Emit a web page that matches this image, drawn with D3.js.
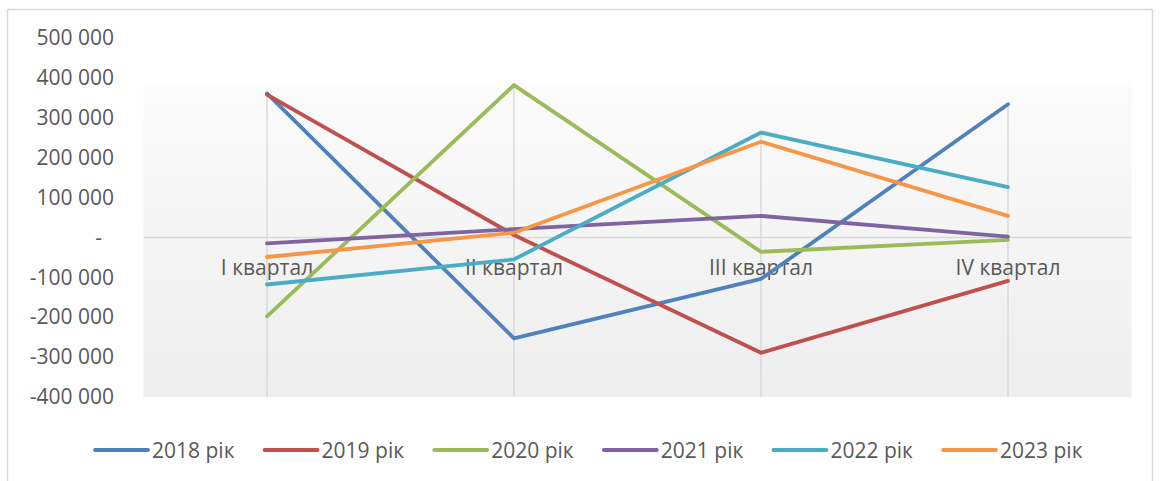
<!DOCTYPE html>
<html>
<head>
<meta charset="utf-8">
<script src="https://cdn.jsdelivr.net/npm/d3@7/dist/d3.min.js"></script>
<style>
  html, body { margin: 0; padding: 0; background: #fff; }
  svg { display: block; }
  text { font-family: "Open Sans", "DejaVu Sans", sans-serif; fill: #595959; }
</style>
</head>
<body>
<svg id="chart" width="1160" height="481"></svg>
<script>
const categories = ["I квартал", "II квартал", "III квартал", "IV квартал"];
const seriesNames = ["2018 рік", "2019 рік", "2020 рік", "2021 рік", "2022 рік", "2023 рік"];
const values2018 = [361000, -253000, -104000, 334000];
const values2019 = [358000, 6000, -289000, -109000];
const values2020 = [-198000, 382000, -36000, -6000];
const values2021 = [-15000, 21000, 54000, 2000];
const values2022 = [-118000, -55000, 263000, 126000];
const values2023 = [-49000, 12000, 240000, 54000];
const seriesColors = ["#4F81BD", "#C0504D", "#9BBB59", "#8064A2", "#4BACC6", "#F79646"];
const tickValues = [500000, 400000, 300000, 200000, 100000, 0, -100000, -200000, -300000, -400000];
const tickLabels = ["500 000", "400 000", "300 000", "200 000", "100 000", "-", "-100 000", "-200 000", "-300 000", "-400 000"];

const allSeries = [values2018, values2019, values2020, values2021, values2022, values2023];

const svg = d3.select("#chart");
const FS = 21;

// outer chart border
svg.append("rect")
  .attr("x", 7.5).attr("y", 9.5)
  .attr("width", 1145).attr("height", 490)
  .attr("fill", "#fff").attr("stroke", "#d9d9d9").attr("stroke-width", 1.5);

const plotLeft = 143.5, plotRight = 1131.5;
const x = d3.scalePoint().domain(categories).range([plotLeft, plotRight]).padding(0.5);
const y = d3.scaleLinear().domain([-400000, 500000]).range([397, 38]);

// plot area gradient background
const defs = svg.append("defs");
const grad = defs.append("linearGradient").attr("id", "bg")
  .attr("x1", 0).attr("y1", 0).attr("x2", 0).attr("y2", 1);
grad.append("stop").attr("offset", "0%").attr("stop-color", "#ffffff");
grad.append("stop").attr("offset", "12%").attr("stop-color", "#ffffff");
grad.append("stop").attr("offset", "14%").attr("stop-color", "#fbfbfb");
grad.append("stop").attr("offset", "100%").attr("stop-color", "#eeeeee");

svg.append("rect")
  .attr("x", plotLeft).attr("y", y(500000))
  .attr("width", plotRight - plotLeft).attr("height", y(-400000) - y(500000))
  .attr("fill", "url(#bg)");

// drop lines from highest point to bottom
categories.forEach((c, i) => {
  const mx = d3.max(allSeries, s => s[i]);
  svg.append("line")
    .attr("x1", x(c)).attr("x2", x(c))
    .attr("y1", y(mx)).attr("y2", y(-400000))
    .attr("stroke", "#d9d9d9").attr("stroke-width", 1.5);
});

// zero axis line
svg.append("line")
  .attr("x1", plotLeft).attr("x2", plotRight)
  .attr("y1", y(0)).attr("y2", y(0))
  .attr("stroke", "#d9d9d9").attr("stroke-width", 1.5);

// y axis labels
const yAxis = d3.axisLeft(y).tickValues(tickValues)
  .tickFormat((d, i) => tickLabels[i]).tickSize(0).tickPadding(0);
const yg = svg.append("g").attr("transform", "translate(114,0)").call(yAxis);
yg.select(".domain").remove();
yg.selectAll("text")
  .attr("font-size", FS).attr("fill", "#595959")
  .style("font-family", "'Open Sans', sans-serif")
  .attr("dx", (d) => d === 0 ? -12 : 0);

// category labels
svg.append("g").selectAll("text").data(categories).join("text")
  .attr("x", d => x(d)).attr("y", y(0) + 38)
  .attr("text-anchor", "middle").attr("font-size", FS)
  .text(d => d);

// lines
const line = d3.line().x((d, i) => x(categories[i])).y(d => y(d));
allSeries.forEach((s, k) => {
  svg.append("path")
    .datum(s)
    .attr("d", line)
    .attr("fill", "none")
    .attr("stroke", seriesColors[k])
    .attr("stroke-width", 3.8)
    .attr("stroke-linecap", "round")
    .attr("stroke-linejoin", "round");
});

// legend
const legend = svg.append("g");
const legendX0 = 95, legendStep = 169.6, legendY = 450;
seriesNames.forEach((n, k) => {
  const lx = legendX0 + k * legendStep;
  legend.append("line")
    .attr("x1", lx).attr("x2", lx + 53)
    .attr("y1", legendY).attr("y2", legendY)
    .attr("stroke", seriesColors[k]).attr("stroke-width", 3.8)
    .attr("stroke-linecap", "round");
  legend.append("text")
    .attr("x", lx + 57).attr("y", legendY + 8)
    .attr("font-size", FS)
    .text(n);
});
</script>
</body>
</html>
